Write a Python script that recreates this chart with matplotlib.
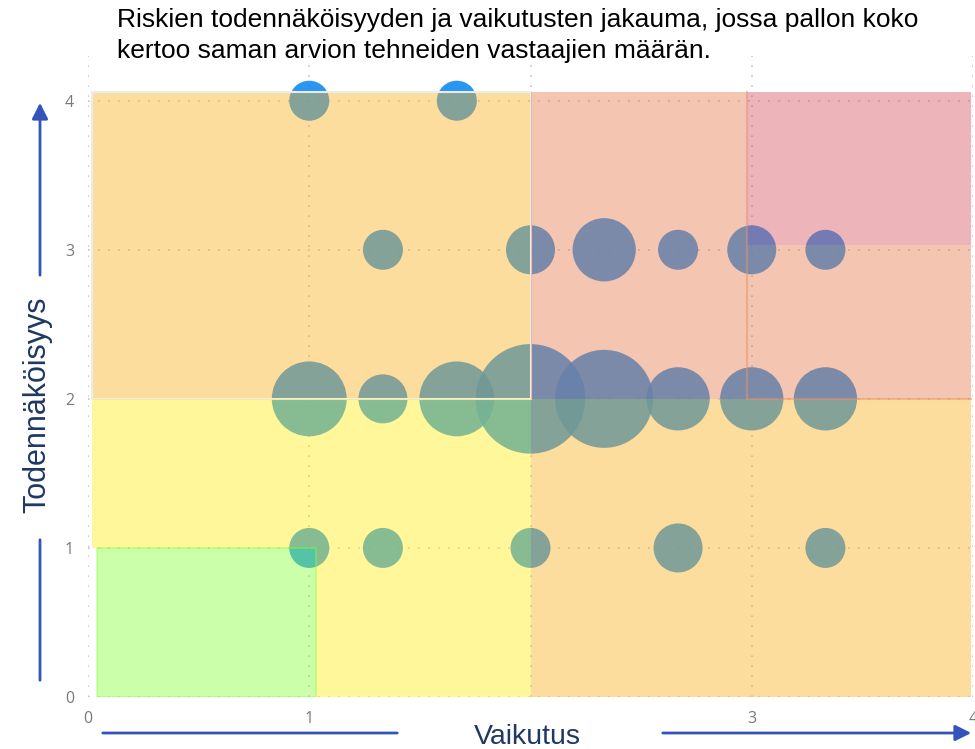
import matplotlib
matplotlib.use("Agg")
from matplotlib import pyplot as plt
from matplotlib.patches import Rectangle, Polygon

# riskiarviot: vaikutus (x), todennäköisyys (y), vastaajien määrä
vaikutus = [1.0, 1.667,
            1.333, 2.0, 2.333, 2.667, 3.0, 3.333,
            1.0, 1.333, 1.667, 2.0, 2.333, 2.667, 3.0, 3.333,
            1.0, 1.333, 2.0, 2.667, 3.333]
todennakoisyys = [4, 4,
                  3, 3, 3, 3, 3, 3,
                  2, 2, 2, 2, 2, 2, 2, 2,
                  1, 1, 1, 1, 1]
vastaajat = [2, 2,
             2, 3, 5, 2, 3, 2,
             7, 3, 7, 15, 12, 5, 5, 5,
             2, 2, 2, 3, 2]

x_ticks = [0, 1, 2, 3, 4]
x_labels = ["0", "1", "", "3", "4"]
y_ticks = [0, 1, 2, 3, 4]

otsikko = ("Riskien todennäköisyyden ja vaikutusten jakauma, jossa pallon koko\n"
           "kertoo saman arvion tehneiden vastaajien määrän.")

fig = plt.figure(figsize=(9.75, 7.49), dpi=100)
ax = fig.add_axes([88 / 975, 52 / 749, 885 / 975, 641 / 749])

# pallot ensin, värialueet läpikuultavina päälle
ax.scatter(vaikutus, todennakoisyys, s=[415 * n for n in vastaajat],
           color="#0584f3", alpha=0.85, linewidths=0, zorder=2)

a = 0.44
def vari(hex_):
    return matplotlib.colors.to_rgba(hex_, a)

ax.add_patch(Rectangle((0.02, 2.0), 1.98, 2.06, facecolor=vari("#fab223"),
                       edgecolor="#ececec", linewidth=1.5, zorder=3))
ax.add_patch(Polygon([(0.02, 1.0), (0.02, 2.0), (2.0, 2.0), (2.0, 0.0), (1.03, 0.0), (1.03, 1.0)],
                     closed=True, facecolor=vari("#ffed17"), linewidth=0, zorder=3))
ax.add_patch(Rectangle((0.04, 0.0), 0.99, 1.0, facecolor=vari("#8bff3e"),
                       edgecolor=vari("#8bff3e"), linewidth=1.2, zorder=3))
ax.add_patch(Rectangle((2.0, 0.0), 1.99, 2.0, facecolor=vari("#fab223"),
                       linewidth=0, zorder=3))
ax.add_patch(Polygon([(2.0, 2.0), (2.0, 4.06), (2.98, 4.06), (2.98, 3.03), (3.99, 3.03), (3.99, 2.0)],
                     closed=True, facecolor=vari("#e67b4b"), linewidth=0, zorder=3))
ax.add_patch(Rectangle((2.98, 3.03), 1.01, 1.03, facecolor=vari("#d65762"),
                       linewidth=0, zorder=3))
# alueiden reunaviivat oikealla
ax.plot([2.98, 2.98], [2.0, 4.06], color="#e8906a", alpha=0.5, lw=1.5, zorder=4)
ax.plot([2.98, 3.99], [2.0, 2.0], color="#e8906a", alpha=0.5, lw=1.5, zorder=4)

ax.set_xlim(0, 4)
ax.set_ylim(0, 4.3)
ax.set_xticks(x_ticks)
ax.set_xticklabels(x_labels)
ax.set_yticks(y_ticks)
ax.tick_params(length=0, labelsize=11.5, labelcolor="#7a7a7a", pad=10)
for lab in ax.get_xticklabels() + ax.get_yticklabels():
    lab.set_family("Open Sans")
ax.grid(True, color="#c4c4c4", linestyle=(0, (1, 5)), linewidth=1.2, zorder=1)
ax.set_axisbelow(True)
for sp in ax.spines.values():
    sp.set_visible(False)

fig.text(117 / 975, 1 - 8 / 749, otsikko, ha="left", va="top", fontsize=19,
         family="Liberation Sans", color="black", linespacing=1.38)

navy = "#1f3864"
sininen = "#3355bb"
fig.text(37 / 975, 1 - 405 / 749, "Todennäköisyys", rotation=90, ha="center", va="center",
         fontsize=22, family="Liberation Sans", color=navy)
fig.text(527 / 975, 1 - 737 / 749, "Vaikutus", ha="center", va="center",
         fontsize=20.5, family="Liberation Sans", color=navy)

# nuolet kuvan pikseleinä
ax.annotate("", xy=(40, 749 - 100), xytext=(40, 749 - 278), xycoords="figure pixels",
            arrowprops=dict(arrowstyle="-|>", color=sininen, lw=2, mutation_scale=24))
ax.annotate("", xy=(40, 749 - 537), xytext=(40, 749 - 683), xycoords="figure pixels",
            arrowprops=dict(arrowstyle="-", color=sininen, lw=2))
ax.annotate("", xy=(100, 749 - 733), xytext=(400, 749 - 733), xycoords="figure pixels",
            arrowprops=dict(arrowstyle="-", color=sininen, lw=2))
ax.annotate("", xy=(974, 749 - 733), xytext=(660, 749 - 733), xycoords="figure pixels",
            arrowprops=dict(arrowstyle="-|>", color=sininen, lw=2, mutation_scale=24))

plt.savefig("out.png", dpi=100)
